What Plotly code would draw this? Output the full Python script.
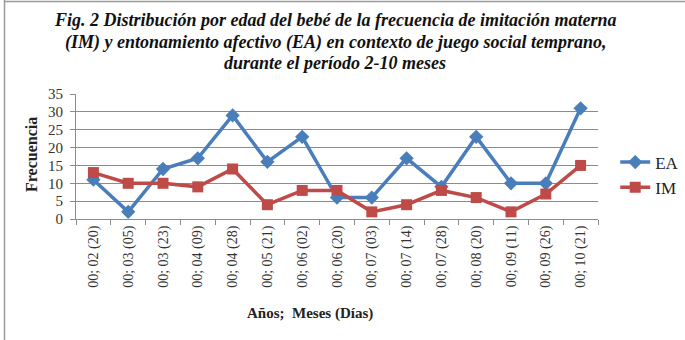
import plotly.graph_objects as go

# Age of the baby at each session: years; months (days)
edades = ["00; 02 (20)", "00; 03 (05)", "00; 03 (23)", "00; 04 (09)", "00; 04 (28)",
          "00; 05 (21)", "00; 06 (02)", "00; 06 (20)", "00; 07 (03)", "00; 07 (14)",
          "00; 07 (28)", "00; 08 (20)", "00; 09 (11)", "00; 09 (26)", "00; 10 (21)"]
# Frequencies per session
ea = [11, 2, 14, 17, 29, 16, 23, 6, 6, 17, 9, 23, 10, 10, 31]
im = [13, 10, 10, 9, 14, 4, 8, 8, 2, 4, 8, 6, 2, 7, 15]
y_ticks = [0, 5, 10, 15, 20, 25, 30, 35]
titulo = [
    "Fig. 2 Distribución por edad del bebé de la frecuencia de imitación materna",
    "(IM) y entonamiento afectivo (EA) en contexto de juego social temprano,",
    "durante el período 2-10 meses",
]

SERIF = "Liberation Serif"
AXIS_GRAY = "#8c8c8c"

# plot area in pixels: x 76..598, y 94..219
L, R, T, B = 76, 87, 94, 121
PW, PH = 685 - L - R, 340 - T - B


def px_x(x):
    return (x - L) / PW


def px_y(y):
    return (340 - B - y) / PH


fig = go.Figure()
fig.add_trace(go.Scatter(
    x=edades, y=ea, name="EA", mode="lines+markers",
    line=dict(color="#4a7ebb", width=3.5),
    marker=dict(symbol="diamond", size=11, color="#4a7ebb"),
))
fig.add_trace(go.Scatter(
    x=edades, y=im, name="IM", mode="lines+markers",
    line=dict(color="#be4b48", width=3.5),
    marker=dict(symbol="square", size=11, color="#be4b48"),
))

fig.update_layout(
    width=685, height=340,
    margin=dict(l=L, r=R, t=T, b=B, autoexpand=False),
    paper_bgcolor="white", plot_bgcolor="white",
    font=dict(family=SERIF, color="#222222"),
    legend=dict(
        x=1.033, y=px_y(175), xanchor="left", yanchor="middle",
        font=dict(family=SERIF, size=17, color="#222222"),
        bgcolor="rgba(0,0,0,0)", tracegroupgap=8,
    ),
    showlegend=True,
)

# three-line figure caption
for linea, yc in zip(titulo, [20, 42, 63]):
    fig.add_annotation(
        text=f"<b><i>{linea}</i></b>", xref="paper", yref="paper",
        x=px_x(335), y=px_y(yc), xanchor="center", yanchor="middle",
        showarrow=False, font=dict(family=SERIF, size=18, color="#111111"),
    )

fig.update_xaxes(
    type="category", range=[-0.5, len(edades) - 0.5],
    tickangle=-90, tickfont=dict(family=SERIF, size=14, color="#333333"),
    ticks="outside", tickson="boundaries", ticklen=5, tickcolor=AXIS_GRAY,
    showline=True, linecolor=AXIS_GRAY, linewidth=1,
    showgrid=False, zeroline=False, automargin=False,
)
fig.update_yaxes(
    range=[0, 35], tickvals=y_ticks,
    tickfont=dict(family=SERIF, size=15, color="#333333"),
    ticks="outside", ticklen=5, tickcolor=AXIS_GRAY, ticklabelstandoff=4,
    showline=True, linecolor=AXIS_GRAY, linewidth=1,
    showgrid=True, gridcolor=AXIS_GRAY, gridwidth=1, zeroline=False, automargin=False,
)

# y-axis title
fig.add_annotation(
    text="<b>Frecuencia</b>", xref="paper", yref="paper",
    x=px_x(31), y=px_y(155), xanchor="center", yanchor="middle", textangle=-90,
    showarrow=False, font=dict(family=SERIF, size=16, color="#222222"),
)

# x-axis title, placed under the rotated labels
fig.add_annotation(
    text="<b>Años;  Meses (Días)</b>", xref="paper", yref="paper",
    x=px_x(310), y=px_y(313), xanchor="center", yanchor="middle",
    showarrow=False, font=dict(family=SERIF, size=15, color="#222222"),
)

# frame lines at the top and left edge of the figure
fig.add_shape(type="line", xref="paper", yref="paper",
              x0=px_x(4), x1=px_x(685), y0=px_y(1.5), y1=px_y(1.5),
              line=dict(color="#9a9a9a", width=1.5))
fig.add_shape(type="line", xref="paper", yref="paper",
              x0=px_x(4.5), x1=px_x(4.5), y0=px_y(340), y1=px_y(0),
              line=dict(color="#9a9a9a", width=1.5))

fig.write_html("out.html")
